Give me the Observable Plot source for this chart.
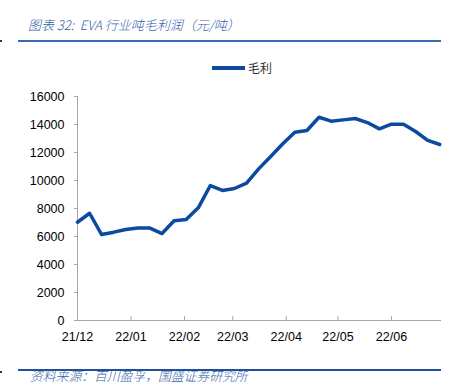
<!DOCTYPE html>
<html>
<head>
<meta charset="utf-8">
<script src="https://cdn.jsdelivr.net/npm/d3@7"></script>
<script src="https://cdn.jsdelivr.net/npm/@observablehq/plot@0.6"></script>
<style>
  html, body { margin: 0; padding: 0; background: #fff; }
  #wrap { position: relative; width: 466px; height: 389px; overflow: hidden; font-family: "Liberation Sans", Arial, sans-serif; }
  .cn { font-family: "Noto Sans CJK SC", sans-serif; font-style: italic; font-weight: 300; color: #2f5fa7; position: absolute; white-space: pre; }
  .rule { position: absolute; background: #2f5fa7; }
  .mark { position: absolute; background: #333; }
</style>
</head>
<body>
<div id="wrap"></div>
<script>
const title = "图表 32:  EVA 行业吨毛利润（元/吨）";
const source = "资料来源：百川盈孚，国盛证券研究所";
const seriesName = "毛利";
const dates = [
  "2021-12-01","2021-12-08","2021-12-15","2021-12-22","2021-12-29",
  "2022-01-05","2022-01-12","2022-01-19","2022-01-26",
  "2022-02-02","2022-02-09","2022-02-16","2022-02-23",
  "2022-03-02","2022-03-09","2022-03-16","2022-03-23","2022-03-30",
  "2022-04-06","2022-04-13","2022-04-20","2022-04-27",
  "2022-05-04","2022-05-11","2022-05-18","2022-05-25",
  "2022-06-01","2022-06-08","2022-06-15","2022-06-22","2022-06-29"
];
const values = [
  7020, 7660, 6140, 6310, 6500,
  6600, 6600, 6210, 7120,
  7210, 8050, 9640, 9290,
  9430, 9810, 10830, 11710, 12620,
  13450, 13570, 14520, 14240,
  14330, 14430, 14140, 13690,
  14020, 14020, 13500, 12860, 12570
];
const monthTicks = ["2021-12-01","2022-01-01","2022-02-01","2022-03-01","2022-04-01","2022-05-01","2022-06-01"];
const yTicks = [0, 2000, 4000, 6000, 8000, 10000, 12000, 14000, 16000];

const parse = d3.utcParse("%Y-%m-%d");
const data = dates.map((d, i) => ({date: parse(d), value: values[i]}));
const mTicks = monthTicks.map(parse);

const chart = Plot.plot({
  width: 466,
  height: 389,
  marginLeft: 77,
  marginRight: 25,
  marginTop: 96,
  marginBottom: 69,
  style: {fontFamily: "'Liberation Sans', Arial, sans-serif", fontSize: "12px", color: "#000", background: "#fff"},
  x: {type: "utc", domain: [parse("2021-12-01"), parse("2022-06-30")]},
  y: {domain: [0, 16000]},
  marks: [
    Plot.ruleY([0], {stroke: "#a6a6a6", strokeWidth: 1}),
    Plot.ruleX([parse("2021-12-01")], {stroke: "#a6a6a6", strokeWidth: 1}),
    Plot.axisY({ticks: yTicks, tickSize: 3, tickPadding: 10, stroke: "#a6a6a6", fill: "#000", fontSize: 12.5, tickFormat: d => String(d), label: null}),
    Plot.axisX(mTicks, {tickSize: 4, dy: -4, stroke: "#a6a6a6", tickFormat: () => "", label: null}),
    Plot.axisX(mTicks, {tickSize: 0, tickPadding: 12, fill: "#000", fontSize: 12.5, tickFormat: d3.utcFormat("%y/%m"), label: null}),
    Plot.line(data, {x: "date", y: "value", stroke: "#0b4a9e", strokeWidth: 3.5, strokeLinejoin: "round"})
  ]
});

const wrap = document.getElementById("wrap");
wrap.appendChild(chart);
chart.style.position = "absolute";
chart.style.left = "0";
chart.style.top = "0";

function add(cls, css, text) {
  const el = document.createElement("div");
  el.className = cls;
  Object.assign(el.style, css);
  if (text) el.textContent = text;
  wrap.appendChild(el);
  return el;
}
add("cn", {left: "28px", top: "16px", fontSize: "13px", lineHeight: "18px", color: "#3563aa"}, title);
add("rule", {left: "18px", top: "40px", width: "423px", height: "2px", background: "#3a6ab2"});
add("mark", {left: "0px", top: "40px", width: "2px", height: "2px"});
add("rule", {left: "18px", top: "369px", width: "423px", height: "2px", background: "#1f4f9a"});
add("mark", {left: "0px", top: "371px", width: "2px", height: "2px"});
add("cn", {left: "30px", top: "368px", fontSize: "12.8px", lineHeight: "16px", color: "#3563aa"}, source);
// legend
add("rule", {left: "212px", top: "66px", width: "33px", height: "4px", background: "#0b4a9e"});
add("", {position: "absolute", left: "248px", top: "60px", fontSize: "12px", lineHeight: "16px", color: "#333", fontFamily: "'Noto Sans CJK SC', sans-serif"}, seriesName);
</script>
</body>
</html>
